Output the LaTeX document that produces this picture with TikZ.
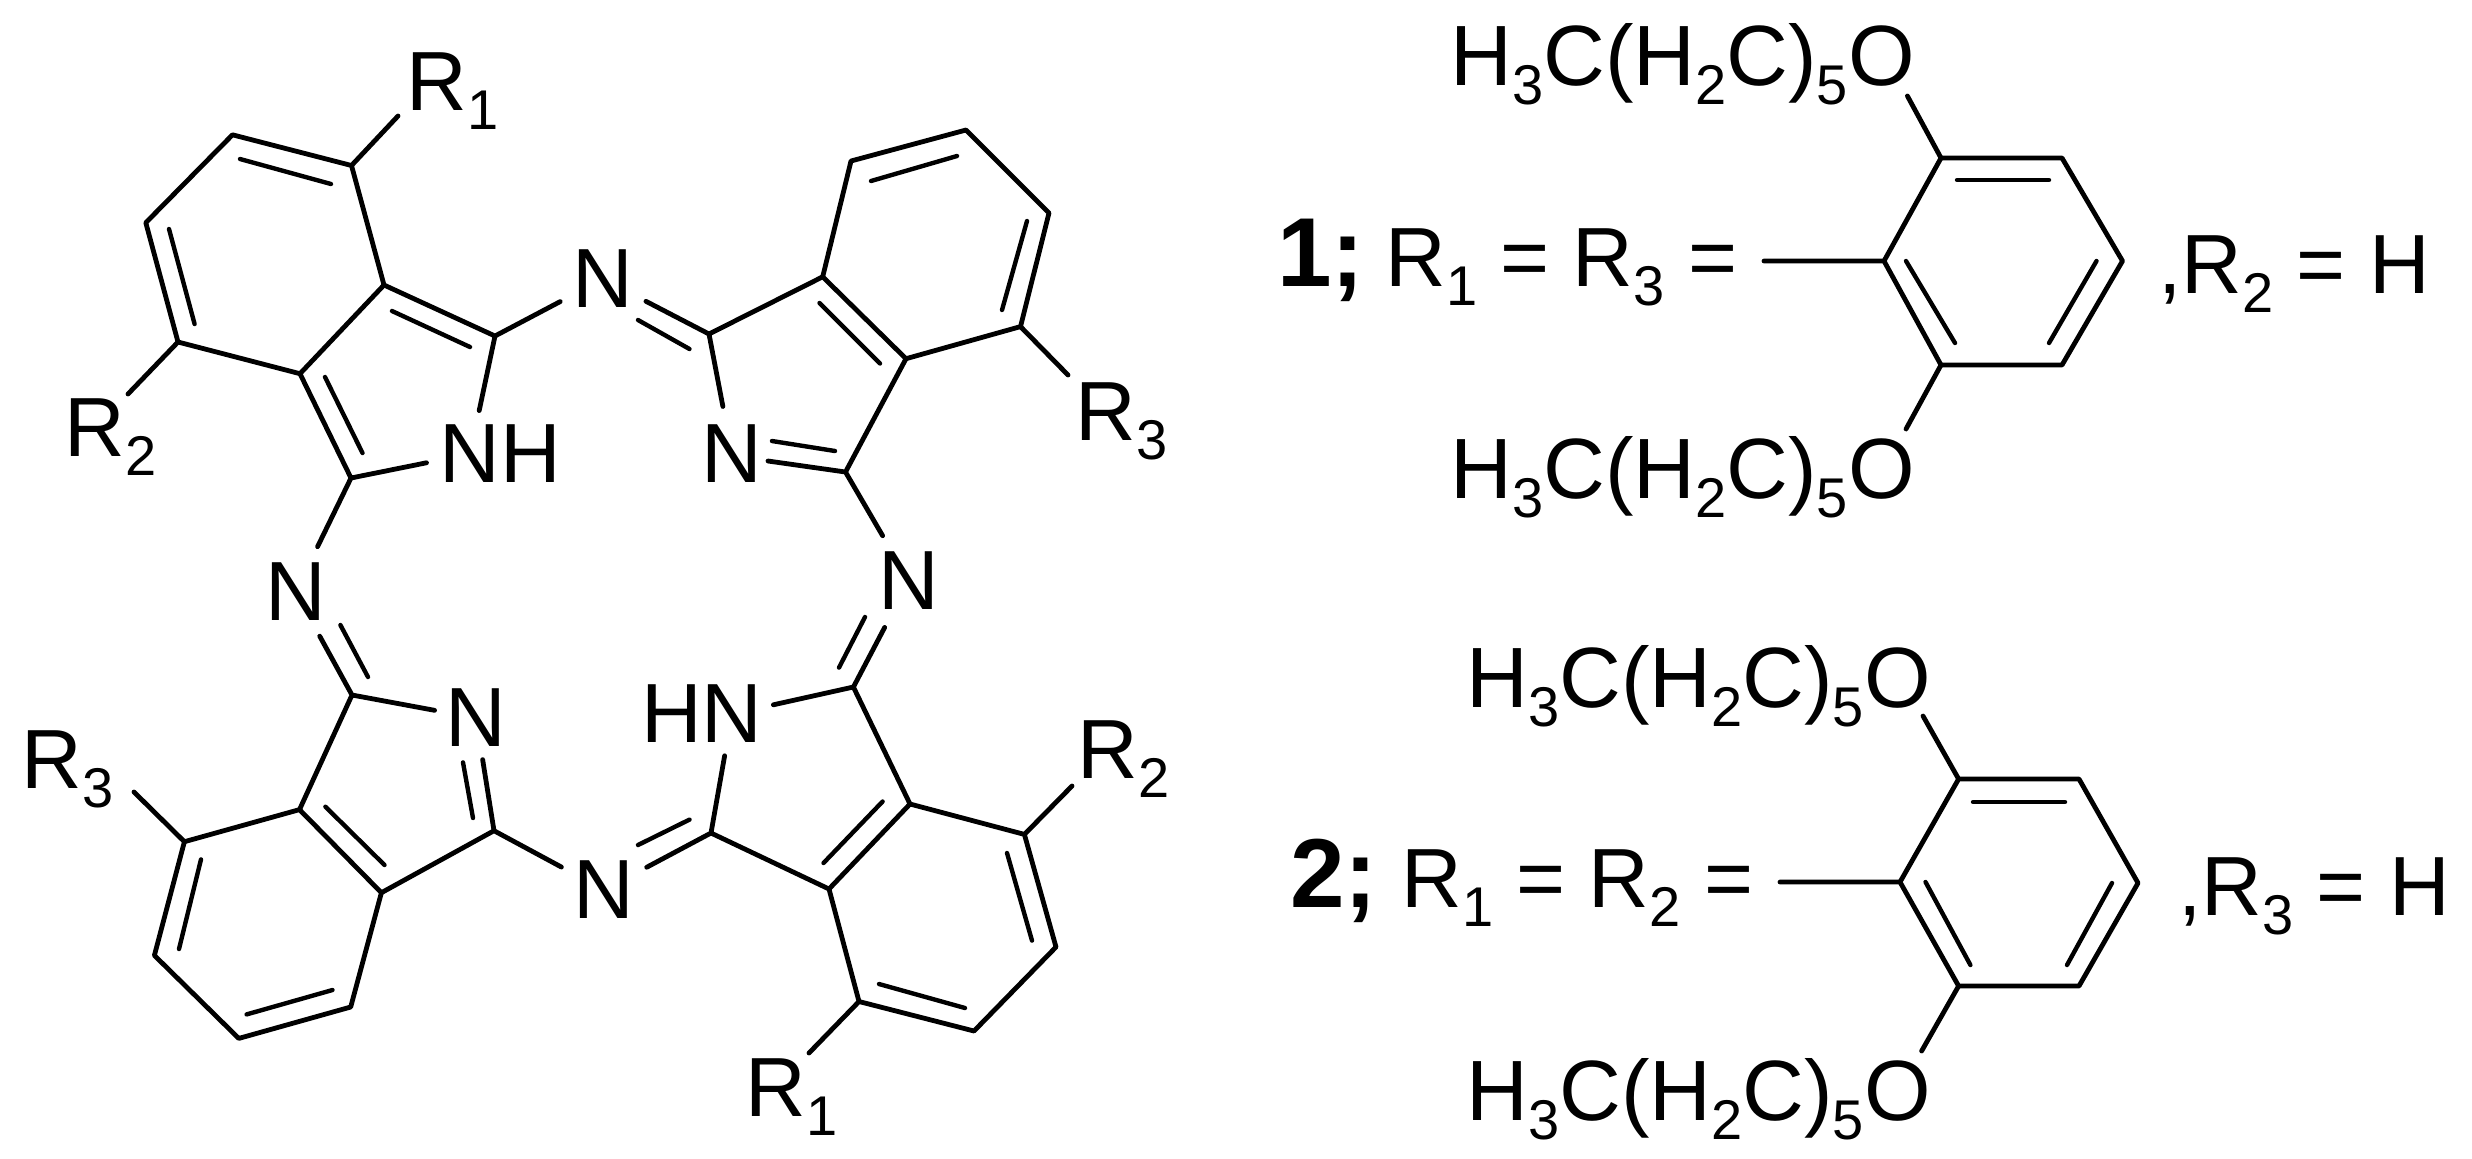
\documentclass[tikz,border=0pt]{standalone}
\usepackage{fontspec}
\setmainfont{Liberation Sans}
\newcommand{\subd}[1]{\raisebox{-9.5pt}{\fontsize{28}{28}\selectfont #1}}
\newcommand{\subl}[1]{\raisebox{-9.5pt}{\fontsize{28}{28}\selectfont #1}}
\newcommand{\chain}{H\subl{3}C(H\subl{2}C)\subl{5}O}
\tikzset{
  bond/.style={line width=2.4pt,line cap=round,line join=round,black},
  innerbond/.style={line width=2.2pt,line cap=round,black},
  atomlabel/.style={circle,inner sep=0pt,minimum size=#1*1pt,font=\fontsize{42}{42}\selectfont},
  rlabel/.style={anchor=base west,inner sep=0pt,font=\fontsize{42}{42}\selectfont},
  chainlabel/.style={anchor=base west,inner sep=0pt,font=\fontsize{42.8}{42.8}\selectfont},
  idlabel/.style={anchor=base west,inner sep=0pt,font=\fontsize{49}{49}\selectfont\bfseries}
}
\begin{document}
\begin{tikzpicture}[x=0.5pt,y=-0.5pt]
\useasboundingbox (0,0) rectangle (2472,1158);
% --- atoms ---
\coordinate (A1) at (351.5,165.5); \coordinate (A2) at (232.5,134.8); \coordinate (A3) at (145.8,222.7);
\coordinate (A4) at (178,342); \coordinate (A5) at (300,373.7); \coordinate (A6) at (384,285);
\coordinate (A7) at (495,336); \coordinate (A8) at (351,478);
\coordinate (B1) at (851,161); \coordinate (B2) at (966,130); \coordinate (B3) at (1049,213);
\coordinate (B4) at (1020.5,326.6); \coordinate (B5) at (906,358.7); \coordinate (B6) at (822.7,276.8);
\coordinate (B7) at (709,334); \coordinate (B8) at (845.5,472);
\coordinate (C1) at (352,695); \coordinate (C2) at (299.5,809.6); \coordinate (C3) at (184.4,841.7);
\coordinate (C4) at (154.4,955.4); \coordinate (C5) at (238.8,1038.4); \coordinate (C6) at (350.7,1007);
\coordinate (C7) at (381.4,892.7); \coordinate (C8) at (494,830.7);
\coordinate (D1) at (853.4,687); \coordinate (D2) at (910,804); \coordinate (D3) at (1024.4,834.4);
\coordinate (D4) at (1056,947); \coordinate (D5) at (974,1031); \coordinate (D6) at (859,1001.5);
\coordinate (D7) at (829,889); \coordinate (D8) at (711,833);
% --- labels ---
\node[atomlabel=48] (Ntop) at (603,279) {N};
\node[atomlabel=48] (Nbot) at (604,890) {N};
\node[atomlabel=50] (Nleft) at (295.5,592) {N};
\node[atomlabel=52] (Nright) at (909,581) {N};
\node[atomlabel=48] (Nin) at (732,454) {N};
\node[atomlabel=40] (Nlow) at (476,718) {N};
\node[atomlabel=44] (NH) at (470,454) {N\rlap{H}};
\node[atomlabel=42] (HN) at (732,714) {\llap{H}N};
\node[rlabel] (RoneA) at (406,110) {R\subd{1}};
\node[rlabel] (RtwoA) at (64,456) {R\subd{2}};
\node[rlabel] (RthrA) at (1075,440) {R\subd{3}};
\node[rlabel] (RthrB) at (21.5,788.6) {R\subd{3}};
\node[rlabel] (RtwoB) at (1077.5,778) {R\subd{2}};
\node[rlabel] (RoneB) at (745.5,1116) {R\subd{1}};
% --- free ends ---
\coordinate (eR1a) at (398,116); \coordinate (eR2a) at (128,394);
\coordinate (eR3a) at (1068,375); \coordinate (eR3b) at (134,792);
\coordinate (eR2b) at (1072,786); \coordinate (eR1b) at (809,1053);
\coordinate (eNin) at (768,461);
% --- macrocycle ---
\draw[bond] (A1)--(A2)--(A3)--(A4)--(A5)--(A6)--cycle;
\draw[bond] (A6)--(A7) (A5)--(A8) (A7)--(NH) (A8)--(NH) (A7)--(Ntop) (A8)--(Nleft) (A1)--(eR1a) (A4)--(eR2a);
\draw[bond] (B1)--(B2)--(B3)--(B4)--(B5)--(B6)--cycle;
\draw[bond] (B6)--(B7) (B5)--(B8) (B7)--(Ntop) (B7)--(Nin) (B8)--(eNin) (B8)--(Nright) (B4)--(eR3a);
\draw[bond] (C2)--(C3)--(C4)--(C5)--(C6)--(C7)--cycle;
\draw[bond] (C1)--(C2) (C1)--(Nleft) (C1)--(Nlow) (C8)--(Nlow) (C8)--(C7) (C8)--(Nbot) (C3)--(eR3b);
\draw[bond] (D2)--(D3)--(D4)--(D5)--(D6)--(D7)--cycle;
\draw[bond] (D1)--(D2) (D1)--(HN) (D8)--(HN) (D8)--(D7) (D8)--(Nbot) (D1)--(Nright) (D3)--(eR2b) (D6)--(eR1b);
% --- inner lines of double bonds ---
\foreach \ax/\ay/\bx/\by [count=\i] in {
 240/159/331/184, 169/229/194.6/324, 392/311/470/347, 325/377/362.5/453,
 871/181/957/156, 1027/221/1002/310, 819.5/303/880/363.5, 638/320/689.5/349, 772/441/835/451,
 340.4/625/368/677, 473/818/463/762.4, 325.4/806.7/384.5/865, 201/859.4/179/949, 246.6/1014.4/332.5/990,
 865/617/839/667.6, 638/845/689.5/819.6, 823.5/863/882.6/801.5, 1007/853/1032/940.6, 965/1008/879/984,
 1957/180/2049/180, 1906/261/1955/343, 2096.5/261/2049/343,
 1973/802/2065/802, 1925.5/882/1970.4/965, 2112/883/2067/965}{
  \coordinate (ia\i) at (\ax,\ay); \coordinate (ib\i) at (\bx,\by);
  \draw[innerbond] (ia\i)--(ib\i);
}
% --- compound 1 ---
\coordinate (E1) at (1941,158); \coordinate (E2) at (2062,158); \coordinate (E3) at (2122.5,261);
\coordinate (E4) at (2062,365); \coordinate (E5) at (1941,365); \coordinate (E6) at (1884,261);
\coordinate (eOa) at (1907.4,96); \coordinate (eOb) at (1906,429); \coordinate (eSa) at (1764,261);
\draw[bond] (E1)--(E2)--(E3)--(E4)--(E5)--(E6)--cycle;
\draw[bond] (E1)--(eOa) (E5)--(eOb) (E6)--(eSa);
\node[chainlabel] (ChainA) at (1450,85.6) {\chain};
\node[chainlabel] (ChainB) at (1450,498) {\chain};
\node[idlabel] (IdOne) at (1277,286) {1;};
\node[rlabel] (EqA) at (1385,286) {R\subd{1} = R\subd{3} =};
\node[rlabel] (EqB) at (2158,293) {,R\subd{2} = H};
% --- compound 2 ---
\coordinate (F1) at (1958.6,779); \coordinate (F2) at (2079,779); \coordinate (F3) at (2138,883);
\coordinate (F4) at (2079,986); \coordinate (F5) at (1958.6,986); \coordinate (F6) at (1900,882);
\coordinate (eOc) at (1923,716); \coordinate (eOd) at (1921.6,1051); \coordinate (eSb) at (1780,882);
\draw[bond] (F1)--(F2)--(F3)--(F4)--(F5)--(F6)--cycle;
\draw[bond] (F1)--(eOc) (F5)--(eOd) (F6)--(eSb);
\node[chainlabel] (ChainC) at (1466,707) {\chain};
\node[chainlabel] (ChainD) at (1466,1120) {\chain};
\node[idlabel] (IdTwo) at (1290,907) {2;};
\node[rlabel] (EqC) at (1401,907) {R\subd{1} = R\subd{2} =};
\node[rlabel] (EqD) at (2178,915) {,R\subd{3} = H};
\end{tikzpicture}
\end{document}
